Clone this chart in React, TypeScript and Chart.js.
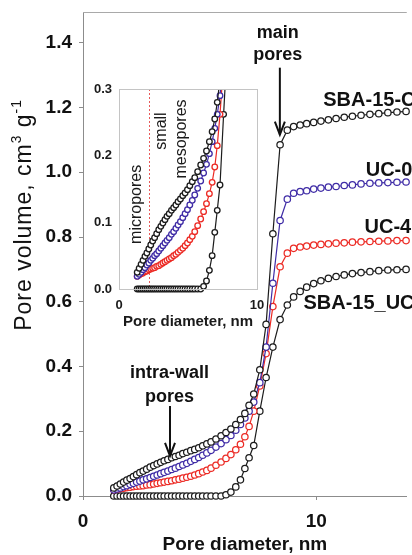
import { useEffect, useRef } from 'react';
import { Chart, registerables } from 'chart.js';

Chart.register(...registerables);

// ---------------- data ----------------
const poreDiameter = [
  1.32, 1.46, 1.60, 1.74, 1.88, 2.02, 2.16, 2.30, 2.44, 2.58,
  2.73, 2.88, 3.03, 3.18, 3.33, 3.48, 3.64, 3.80, 3.96, 4.12,
  4.28, 4.45, 4.62, 4.79, 4.96, 5.13, 5.31, 5.49, 5.70, 5.92,
  6.13, 6.34, 6.55, 6.75, 6.94, 7.12, 7.32, 7.58, 7.85, 8.14,
  8.45, 8.76, 9.03, 9.31, 9.59, 9.89, 10.20, 10.52, 10.85, 11.20,
  11.55, 11.92, 12.30, 12.68, 13.07, 13.46, 13.85,
];

const sba15C = [
  0.025, 0.031, 0.037, 0.043, 0.049, 0.054, 0.060, 0.066, 0.072, 0.077,
  0.083, 0.089, 0.094, 0.099, 0.104, 0.109, 0.113, 0.118, 0.122, 0.126,
  0.131, 0.135, 0.140, 0.144, 0.149, 0.155, 0.161, 0.167, 0.176, 0.186,
  0.196, 0.207, 0.221, 0.236, 0.255, 0.280, 0.315, 0.390, 0.530, 0.810,
  1.085, 1.130, 1.141, 1.146, 1.150, 1.154, 1.158, 1.162, 1.166, 1.170,
  1.173, 1.176, 1.179, 1.181, 1.184, 1.186, 1.188,
];

const uc0 = [
  0.019, 0.022, 0.025, 0.029, 0.032, 0.036, 0.039, 0.043, 0.046, 0.050,
  0.053, 0.057, 0.061, 0.065, 0.069, 0.073, 0.077, 0.082, 0.086, 0.091,
  0.096, 0.101, 0.107, 0.113, 0.119, 0.126, 0.133, 0.141, 0.151, 0.162,
  0.174, 0.187, 0.203, 0.221, 0.241, 0.262, 0.290, 0.350, 0.460, 0.657,
  0.851, 0.917, 0.935, 0.940, 0.943, 0.948, 0.951, 0.954, 0.956, 0.959,
  0.961, 0.964, 0.966, 0.967, 0.968, 0.969, 0.970,
];

const uc4 = [
  0.019, 0.021, 0.023, 0.024, 0.026, 0.027, 0.029, 0.030, 0.031, 0.032,
  0.034, 0.035, 0.037, 0.039, 0.041, 0.043, 0.045, 0.047, 0.050, 0.052,
  0.055, 0.058, 0.061, 0.065, 0.069, 0.074, 0.079, 0.086, 0.095, 0.105,
  0.116, 0.128, 0.143, 0.160, 0.183, 0.215, 0.262, 0.340, 0.440, 0.585,
  0.708, 0.750, 0.765, 0.769, 0.772, 0.775, 0.777, 0.779, 0.781, 0.782,
  0.784, 0.785, 0.786, 0.787, 0.788, 0.789, 0.789,
];

const sba15UC = [
  0, 0, 0, 0, 0, 0, 0, 0, 0, 0,
  0, 0, 0, 0, 0, 0, 0, 0, 0, 0,
  0, 0, 0, 0, 0, 0, 0, 0, 0, 0,
  0.004, 0.012, 0.028, 0.050, 0.085, 0.118, 0.156, 0.262, 0.366, 0.460,
  0.545, 0.590, 0.615, 0.632, 0.645, 0.656, 0.665, 0.672, 0.678, 0.683,
  0.687, 0.690, 0.693, 0.696, 0.698, 0.699, 0.700,
];

const seriesNames = ['SBA-15-C', 'UC-0', 'UC-4', 'SBA-15_UC'];
const seriesValues = [sba15C, uc0, uc4, sba15UC];
const seriesColors = ['#1c1c1c', '#3f2ca6', '#ec2a24', '#1c1c1c'];

const mainXTicks = [0, 10];
const mainYTicks = [0, 0.2, 0.4, 0.6, 0.8, 1.0, 1.2, 1.4];
const insetXTicks = [0, 10];
const insetYTicks = [0, 0.1, 0.2, 0.3];
const microMesoBoundary = 2.2;

// annotation positions (data units)
const mainTexts = [
  { t: 'main', x: 8.35, y: 1.431 },
  { t: 'pores', x: 8.35, y: 1.363 },
  { t: 'intra-wall', x: 3.71, y: 0.38 },
  { t: 'pores', x: 3.71, y: 0.306 },
];
const mainArrows = [
  { x: 8.44, y1: 1.323, y2: 1.116 },
  { x: 3.73, y1: 0.278, y2: 0.124 },
];
const seriesLabelPos = [
  { x: 10.3, y: 1.221 },
  { x: 12.12, y: 1.004 },
  { x: 12.07, y: 0.828 },
  { x: 9.45, y: 0.596 },
];
const insetTexts = [
  { t: 'micropores', x: 1.27, y: 0.127 },
  { t: 'small', x: 3.11, y: 0.237 },
  { t: 'mesopores', x: 4.56, y: 0.225 },
];

const FAMILY = '"Liberation Sans", Arial, Helvetica, sans-serif';
const font = (size: number, bold: boolean) => `${bold ? 'bold ' : ''}${size}px ${FAMILY}`;

function buildDatasets(radius: number, bw: number, clip: any) {
  return seriesNames.map((name, i) => ({
    label: name,
    data: poreDiameter.map((x, j) => ({ x, y: seriesValues[i][j] })),
    borderColor: seriesColors[i],
    backgroundColor: '#ffffff',
    pointBackgroundColor: '#ffffff',
    pointBorderColor: seriesColors[i],
    pointRadius: radius,
    pointBorderWidth: bw,
    borderWidth: 1.2,
    tension: 0,
    fill: false,
    clip,
  }));
}

function zeroPad(s: any) {
  s.paddingTop = 0;
  s.paddingBottom = 0;
  s.paddingLeft = 0;
  s.paddingRight = 0;
}

function drawArrow(ctx: CanvasRenderingContext2D, x: number, y1: number, y2: number) {
  ctx.strokeStyle = '#111';
  ctx.lineWidth = 2;
  ctx.beginPath();
  ctx.moveTo(x, y1);
  ctx.lineTo(x, y2);
  ctx.stroke();
  ctx.beginPath();
  ctx.moveTo(x - 5, y2 - 13);
  ctx.lineTo(x, y2);
  ctx.lineTo(x + 5, y2 - 13);
  ctx.stroke();
}

const mainDecor = {
  id: 'mainDecor',
  afterDraw(chart: any) {
    const { ctx, chartArea, scales } = chart;
    const xs = scales.x;
    const ys = scales.y;
    ctx.save();
    // top frame line
    ctx.strokeStyle = '#a9a9a9';
    ctx.lineWidth = 1;
    ctx.beginPath();
    ctx.moveTo(chartArea.left, Math.round(chartArea.top) + 0.5);
    ctx.lineTo(chartArea.right, Math.round(chartArea.top) + 0.5);
    ctx.stroke();

    ctx.fillStyle = '#111';
    // x title
    ctx.font = font(19, true);
    ctx.textAlign = 'center';
    ctx.textBaseline = 'middle';
    ctx.fillText('Pore diameter, nm', (chartArea.left + chartArea.right) / 2, chartArea.bottom + 49);

    // y title with superscripts
    const size = 23;
    const parts = [
      { t: 'Pore volume, cm', sup: false },
      { t: '3', sup: true },
      { t: ' g', sup: false },
      { t: '-1', sup: true },
    ];
    ctx.save();
    ctx.translate(23, 215);
    ctx.rotate(-Math.PI / 2);
    ctx.textAlign = 'left';
    ctx.textBaseline = 'alphabetic';
    (ctx as any).letterSpacing = '1px';
    let total = 0;
    const widths = parts.map((p) => {
      ctx.font = font(p.sup ? size * 0.6 : size, false);
      const w = ctx.measureText(p.t).width;
      total += w;
      return w;
    });
    let px = -total / 2;
    parts.forEach((p, i) => {
      ctx.font = font(p.sup ? size * 0.6 : size, false);
      ctx.fillText(p.t, px, p.sup ? size * 0.35 - size * 0.45 : size * 0.35);
      px += widths[i];
    });
    (ctx as any).letterSpacing = '0px';
    ctx.restore();

    // annotations
    ctx.font = font(18, true);
    ctx.textAlign = 'center';
    ctx.textBaseline = 'middle';
    mainTexts.forEach((a) => {
      ctx.fillText(a.t, xs.getPixelForValue(a.x), ys.getPixelForValue(a.y));
    });
    mainArrows.forEach((a) => {
      drawArrow(ctx, xs.getPixelForValue(a.x), ys.getPixelForValue(a.y1), ys.getPixelForValue(a.y2));
    });

    // series labels
    ctx.font = font(20, true);
    ctx.textAlign = 'left';
    seriesNames.forEach((name, i) => {
      const p = seriesLabelPos[i];
      ctx.fillText(name, xs.getPixelForValue(p.x), ys.getPixelForValue(p.y));
    });
    ctx.restore();
  },
};

const insetDecor = {
  id: 'insetDecor',
  beforeDatasetsDraw(chart: any) {
    const { ctx, chartArea, scales } = chart;
    ctx.save();
    ctx.fillStyle = '#ffffff';
    ctx.fillRect(chartArea.left, chartArea.top, chartArea.right - chartArea.left, chartArea.bottom - chartArea.top);
    const bx = Math.round(scales.x.getPixelForValue(microMesoBoundary)) + 0.5;
    ctx.strokeStyle = '#e85a5a';
    ctx.lineWidth = 1;
    ctx.setLineDash([2, 2]);
    ctx.beginPath();
    ctx.moveTo(bx, chartArea.top);
    ctx.lineTo(bx, chartArea.bottom);
    ctx.stroke();
    ctx.restore();
  },
  afterDraw(chart: any) {
    const { ctx, chartArea, scales } = chart;
    ctx.save();
    ctx.strokeStyle = '#c4c4c4';
    ctx.lineWidth = 1;
    ctx.strokeRect(
      Math.round(chartArea.left) + 0.5,
      Math.round(chartArea.top) + 0.5,
      Math.round(chartArea.right - chartArea.left),
      Math.round(chartArea.bottom - chartArea.top)
    );
    ctx.fillStyle = '#1a1a1a';
    ctx.font = font(15, true);
    ctx.textAlign = 'center';
    ctx.textBaseline = 'middle';
    ctx.fillText('Pore diameter, nm', (chartArea.left + chartArea.right) / 2, chartArea.bottom + 33);

    ctx.font = font(16, false);
    insetTexts.forEach((a) => {
      ctx.save();
      ctx.translate(scales.x.getPixelForValue(a.x), scales.y.getPixelForValue(a.y));
      ctx.rotate(-Math.PI / 2);
      ctx.fillText(a.t, 0, 0);
      ctx.restore();
    });
    ctx.restore();
  },
};

export default function App() {
  const mainRef = useRef<HTMLCanvasElement>(null);
  const insetRef = useRef<HTMLCanvasElement>(null);

  useEffect(() => {
    const main = new Chart(mainRef.current as HTMLCanvasElement, {
      type: 'line',
      data: { datasets: buildDatasets(3.2, 1.25, false) as any },
      options: {
        animation: false,
        responsive: false,
        devicePixelRatio: 1,
        layout: { padding: { top: 12, right: 0, left: 0, bottom: 0 } },
        plugins: { legend: { display: false }, tooltip: { enabled: false }, title: { display: false } },
        scales: {
          x: {
            type: 'linear',
            min: 0,
            max: 13.88,
            afterBuildTicks: (s: any) => {
              s.ticks = mainXTicks.map((v) => ({ value: v }));
            },
            afterFit: (s: any) => {
              s.height = 59;
              zeroPad(s);
            },
            ticks: {
              callback: (v: any) => String(v),
              font: { family: FAMILY, size: 19, weight: 'bold' },
              color: '#111',
              padding: 10,
              maxRotation: 0,
            },
            grid: { drawOnChartArea: false, drawTicks: true, tickLength: 4, color: '#8c8c8c' },
            border: { display: true, color: '#8c8c8c', width: 1 },
          },
          y: {
            type: 'linear',
            min: 0,
            max: 1.495,
            afterBuildTicks: (s: any) => {
              s.ticks = mainYTicks.map((v) => ({ value: v }));
            },
            afterFit: (s: any) => {
              s.width = 83;
              zeroPad(s);
            },
            ticks: {
              callback: (v: any) => Number(v).toFixed(1),
              font: { family: FAMILY, size: 19, weight: 'bold' },
              color: '#111',
              padding: 7,
            },
            grid: { drawOnChartArea: false, drawTicks: true, tickLength: 4, color: '#8c8c8c' },
            border: { display: true, color: '#8c8c8c', width: 1 },
          },
        },
      },
      plugins: [mainDecor],
    });

    const inset = new Chart(insetRef.current as HTMLCanvasElement, {
      type: 'line',
      data: { datasets: buildDatasets(2.8, 1.3, { left: 4, top: 0, right: 0, bottom: 4 }) as any },
      options: {
        animation: false,
        responsive: false,
        devicePixelRatio: 1,
        layout: { padding: { top: 9, right: 8, left: 0, bottom: 0 } },
        plugins: { legend: { display: false }, tooltip: { enabled: false }, title: { display: false } },
        scales: {
          x: {
            type: 'linear',
            min: 0,
            max: 10,
            afterBuildTicks: (s: any) => {
              s.ticks = insetXTicks.map((v) => ({ value: v }));
            },
            afterFit: (s: any) => {
              s.height = 46;
              zeroPad(s);
            },
            ticks: {
              callback: (v: any) => String(v),
              font: { family: FAMILY, size: 13, weight: 'bold' },
              color: '#1a1a1a',
              padding: 9,
              maxRotation: 0,
            },
            grid: { display: false, drawTicks: false },
            border: { display: false },
          },
          y: {
            type: 'linear',
            min: 0,
            max: 0.3,
            afterBuildTicks: (s: any) => {
              s.ticks = insetYTicks.map((v) => ({ value: v }));
            },
            afterFit: (s: any) => {
              s.width = 34;
              zeroPad(s);
            },
            ticks: {
              callback: (v: any) => Number(v).toFixed(1),
              font: { family: FAMILY, size: 13, weight: 'bold' },
              color: '#1a1a1a',
              padding: 7,
            },
            grid: { display: false, drawTicks: false },
            border: { display: false },
          },
        },
      },
      plugins: [insetDecor],
    });

    return () => {
      main.destroy();
      inset.destroy();
    };
  }, []);

  return (
    <div style={{ position: 'fixed', left: 0, top: 0, width: 412, height: 555, background: '#ffffff' }}>
      <canvas
        ref={mainRef}
        width={412}
        height={555}
        style={{ position: 'absolute', left: 0, top: 0, width: 412, height: 555 }}
      />
      <canvas
        ref={insetRef}
        width={180}
        height={255}
        style={{ position: 'absolute', left: 85, top: 80, width: 180, height: 255 }}
      />
    </div>
  );
}
